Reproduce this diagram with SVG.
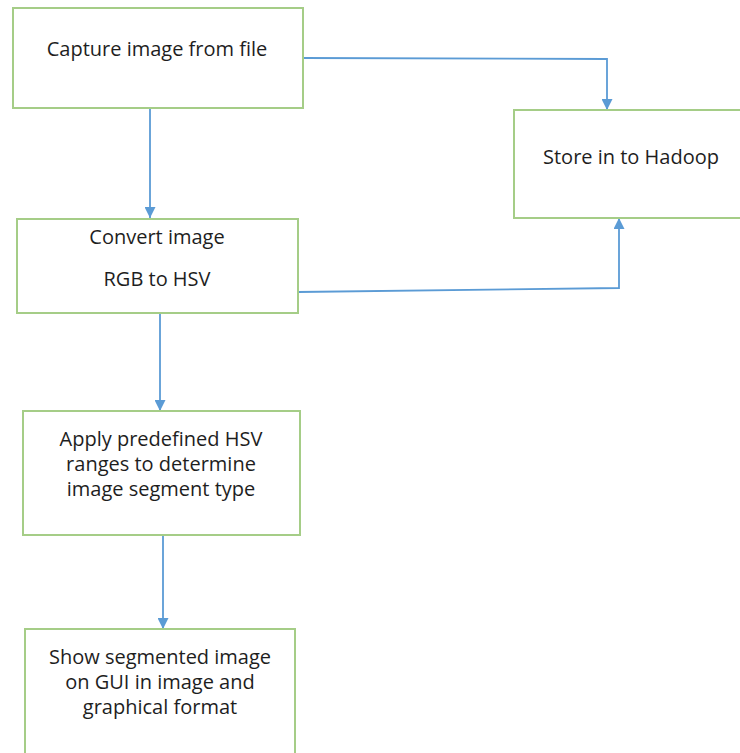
<svg xmlns="http://www.w3.org/2000/svg" width="740" height="753" viewBox="0 0 740 753">
<style>
.box{fill:#fff;stroke:#a5cd87;stroke-width:2}
.lbl{font-family:"Open Sans","Liberation Sans",sans-serif;font-size:20px;fill:#1e1e1e;text-anchor:middle}
.conn{fill:none;stroke:#5b9bd5;stroke-width:1.8}
</style>
<defs>
<marker id="ah" viewBox="0 0 10 10" refX="10" refY="5" markerWidth="11" markerHeight="11" markerUnits="userSpaceOnUse" orient="auto">
<path d="M0,0 L10,5 L0,10 z" fill="#5b9bd5"/>
</marker>
</defs>
<rect width="740" height="753" fill="#fff"/>
<g id="connectors">
<path class="conn" d="M150,108 V218" marker-end="url(#ah)"/>
<path class="conn" d="M303,58 L607,59 V110" marker-end="url(#ah)"/>
<path class="conn" d="M298,292 L619,288 V218" marker-end="url(#ah)"/>
<path class="conn" d="M160,313 V411" marker-end="url(#ah)"/>
<path class="conn" d="M163,535 V629" marker-end="url(#ah)"/>
</g>
<g id="capture">
<rect class="box" x="13" y="8" width="290" height="100"/>
<text class="lbl" x="157" y="56">Capture image from file</text>
</g>
<g id="hadoop">
<rect class="box" x="514" y="110" width="240" height="108"/>
<text class="lbl" x="631" y="164">Store in to Hadoop</text>
</g>
<g id="convert">
<rect class="box" x="17" y="219" width="281" height="94"/>
<text class="lbl" x="157" y="244">Convert image</text>
<text class="lbl" x="157" y="286">RGB to HSV</text>
</g>
<g id="apply">
<rect class="box" x="23" y="411" width="277" height="124"/>
<text class="lbl" x="161" y="446">Apply predefined HSV</text>
<text class="lbl" x="161" y="471">ranges to determine</text>
<text class="lbl" x="161" y="496">image segment type</text>
</g>
<g id="show">
<rect class="box" x="25" y="629" width="270" height="140"/>
<text class="lbl" x="160" y="664">Show segmented image</text>
<text class="lbl" x="160" y="689">on GUI in image and</text>
<text class="lbl" x="160" y="714">graphical format</text>
</g>
</svg>
